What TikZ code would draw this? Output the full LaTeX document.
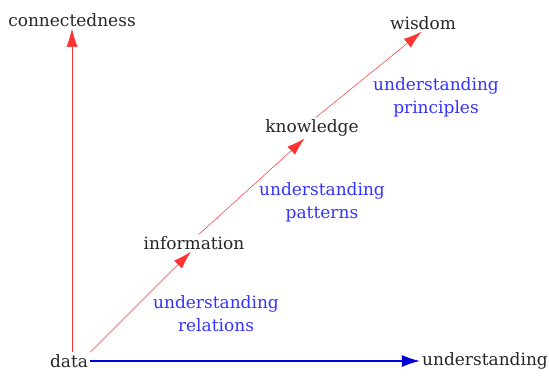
\documentclass[tikz,border=0pt]{standalone}
\usepackage{fontspec}
\setmainfont{DejaVu Serif}
\usetikzlibrary{arrows.meta}

\begin{document}
\begin{tikzpicture}[x=1pt, y=1pt,
    word/.style={font=\fontsize{17}{23}\selectfont, text=black!85, inner sep=2pt},
    gain/.style={font=\fontsize{17}{23}\selectfont, text=blue!80!white, align=center, inner sep=0pt},
    redarrow/.style={draw=red!80!white, line width=0.5pt, -{Latex[length=18pt, width=11pt]}},
    bluearrow/.style={draw=blue!85!black, line width=1.3pt, -{Latex[length=18pt, width=12pt]}}]
    % Fix the size of the picture
    \useasboundingbox (0,0) rectangle (549,378);

    % Place the words
    \node[word] (connectedness) at (72,358) {connectedness};
    \node[word] (data) at (69,17) {data};
    \node[word] (understanding) at (485,17) {understanding};
    \node[word] (information) at (194,135) {information};
    \node[word] (knowledge) at (312,250) {knowledge};
    \node[word] (wisdom) at (423,355) {wisdom};

    % Place the labels in blue
    \node[gain] (relations) at (216,64) {understanding\\relations};
    \node[gain] (patterns) at (322,176) {understanding\\patterns};
    \node[gain] (principles) at (436,281) {understanding\\principles};

    % Draw the axes
    \draw[redarrow] (data.north -| connectedness) -- (connectedness.south);
    \draw[bluearrow] (data.east) -- (understanding.west);

    % Draw the steps
    \draw[redarrow] (data.north east) -- (information.250);
    \draw[redarrow] (information.60) -- (knowledge.235);
    \draw[redarrow] (knowledge.70) -- (wisdom.260);

\end{tikzpicture}
\end{document}
